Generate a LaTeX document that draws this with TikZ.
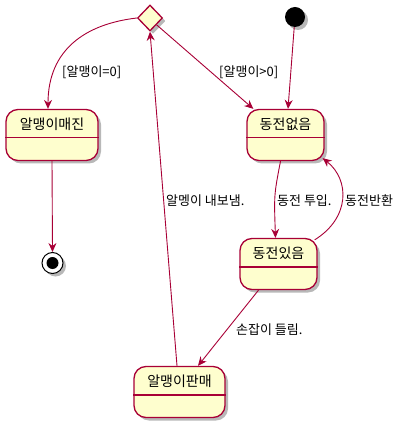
\documentclass[tikz,border=0pt]{standalone}
\usepackage{fontspec}
\setmainfont{Noto Sans CJK KR}
\usetikzlibrary{shapes.geometric,arrows.meta,calc,shadows}
\definecolor{umlred}{HTML}{A80036}
\definecolor{umlfill}{HTML}{FEFECE}
\tikzset{
  shade/.style={drop shadow={shadow xshift=3pt, shadow yshift=-3pt, fill=black, opacity=0.28}},
  statebox/.style={draw=umlred, fill=umlfill, line width=1.3pt, rounded corners=12pt,
    minimum width=#1, minimum height=51pt, inner sep=0pt, shade},
  choicebox/.style={diamond, aspect=1, draw=umlred, fill=umlfill, line width=1.3pt,
    minimum width=25pt, minimum height=26pt, inner sep=0pt, shade},
  startdot/.style={circle, fill=black, minimum size=20pt, inner sep=0pt, shade},
  enddot/.style={circle, draw=black, fill=white, line width=1pt, minimum size=21pt, inner sep=0pt, shade},
  title/.style={font=\fontsize{14}{16}\selectfont, inner sep=0pt},
  lbl/.style={font=\fontsize{13}{15}\selectfont, anchor=west, inner sep=0pt},
  edge/.style={draw=umlred, line width=0.9pt, -{Stealth[length=9pt,width=8pt,inset=3pt]}},
  divider/.style={draw=umlred, line width=1.3pt}
}
\begin{document}
\begin{tikzpicture}[x=1pt, y=-1pt]
\useasboundingbox (0,0) rectangle (403,430);

\node[choicebox] (ch) at (150,18) {};
\node[startdot] (ini) at (295,17) {};
\node[statebox=92pt] (empty) at (52,135) {};
\node[statebox=77pt] (nocoin) at (285.5,135) {};
\node[statebox=77pt] (coin) at (278.5,264) {};
\node[statebox=91pt] (sold) at (179.5,392) {};
\node[enddot] (fin) at (52.5,263) {};
\fill (fin) circle (6pt);

\foreach \s/\t in {empty/알맹이매진, nocoin/동전없음, coin/동전있음, sold/알맹이판매}{
  \node[title] at ($(\s.north)+(0,15)$) {\t};
  \draw[divider] ($(\s.north west)+(0,29)$) -- ($(\s.north east)+(0,29)$);
}

\draw[edge] (ch.west) .. controls (85,24) and (48,50) .. ($(empty.north)+(-4,0)$);
\draw[edge] (ch.south east) -- ($(nocoin.north west)+(7,0)$);
\draw[edge] (ini) -- ($(nocoin.north)+(2.5,0)$);
\draw[edge] (empty.south) -- (fin.north);
\draw[edge] ($(nocoin.south)+(-5,0)$) .. controls (274,195) .. ($(coin.north)+(-3,0)$);
\draw[edge] ($(coin.north east)+(-3,2)$) .. controls (350,218) and (350,180) .. ($(nocoin.south east)+(-2,-3)$);
\draw[edge] ($(coin.south)+(-20,0)$) -- ($(sold.north)+(18.5,0)$);
\draw[edge] ($(sold.north)+(-2.5,0)$) -- (ch.south);

\node[lbl] at (62,72) {[알맹이=0]};
\node[lbl] at (219,72) {[알맹이>0]};
\node[lbl] at (166,201) {알멩이 내보냄.};
\node[lbl] at (277,201) {동전 투입.};
\node[lbl] at (345,201) {동전반환};
\node[lbl] at (236,330) {손잡이 들림.};
\end{tikzpicture}
\end{document}
